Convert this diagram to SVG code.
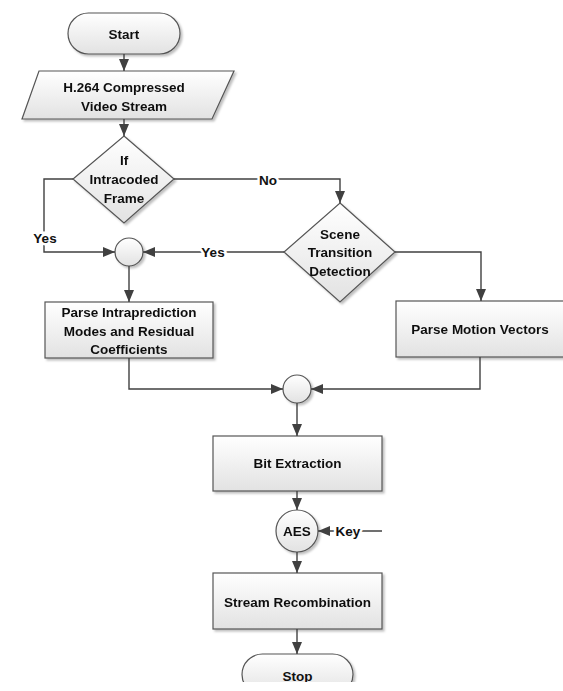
<svg xmlns="http://www.w3.org/2000/svg" width="563" height="691" viewBox="0 0 563 691">
<style>
.shape{fill:url(#g);stroke:#555;stroke-width:1.2}
.t{font-family:"Liberation Sans",Arial,sans-serif;font-weight:bold;font-size:13.5px;fill:#111;text-anchor:middle;dominant-baseline:central}
.lbl{paint-order:stroke;stroke:#fff;stroke-width:5px}
.c{fill:none;stroke:#404040;stroke-width:1.4}
</style>
<defs>
<linearGradient id="g" x1="0" y1="0" x2="0" y2="1">
<stop offset="0" stop-color="#ffffff"/>
<stop offset="1" stop-color="#e2e2e2"/>
</linearGradient>
<filter id="sh" x="-10%" y="-10%" width="130%" height="130%">
<feDropShadow dx="2" dy="2" stdDeviation="1.2" flood-color="#000" flood-opacity="0.25"/>
</filter>
<marker id="ah" markerUnits="userSpaceOnUse" markerWidth="14" markerHeight="14" viewBox="0 0 14 14" refX="12" refY="7" orient="auto">
<path d="M0,2 L12,7 L0,12 Z" fill="#404040"/>
</marker>
<clipPath id="clipb"><rect x="0" y="0" width="563" height="682"/></clipPath>
</defs>
<rect width="563" height="691" fill="#fff"/>

<g id="start" filter="url(#sh)">
<rect class="shape" x="68" y="13" width="112" height="41" rx="20.5"/>
<text class="t" x="124" y="34">Start</text>
</g>
<g id="input" filter="url(#sh)">
<polygon class="shape" points="39,71 234,71 212,119 22,119"/>
<text class="t" x="124" y="87">H.264 Compressed</text>
<text class="t" x="124" y="106">Video Stream</text>
</g>
<g id="dec1" filter="url(#sh)">
<polygon class="shape" points="124,136 174,179 124,223 73,179"/>
<text class="t" x="124" y="160">If</text>
<text class="t" x="124" y="179">Intracoded</text>
<text class="t" x="124" y="198">Frame</text>
</g>
<g id="dec2" filter="url(#sh)">
<polygon class="shape" points="340,203 395,252 340,302 284,252"/>
<text class="t" x="340" y="234">Scene</text>
<text class="t" x="340" y="252">Transition</text>
<text class="t" x="340" y="271">Detection</text>
</g>
<g id="join1" filter="url(#sh)">
<circle class="shape" cx="129" cy="252" r="14"/>
</g>
<g id="intra" filter="url(#sh)">
<rect class="shape" x="45" y="302" width="168" height="56"/>
<text class="t" x="129" y="312">Parse Intraprediction</text>
<text class="t" x="129" y="331">Modes and Residual</text>
<text class="t" x="129" y="349">Coefficients</text>
</g>
<g id="motion" filter="url(#sh)">
<rect class="shape" x="396" y="301" width="172" height="56"/>
<text class="t" x="480" y="329">Parse Motion Vectors</text>
</g>
<g id="join2" filter="url(#sh)">
<circle class="shape" cx="297" cy="389" r="14"/>
</g>
<g id="bitext" filter="url(#sh)">
<rect class="shape" x="213" y="436" width="169" height="55"/>
<text class="t" x="297.5" y="463">Bit Extraction</text>
</g>
<g id="aes" filter="url(#sh)">
<circle class="shape" cx="297" cy="531" r="21"/>
<text class="t" x="297" y="531">AES</text>
</g>
<g id="recomb" filter="url(#sh)">
<rect class="shape" x="213" y="573" width="169" height="56"/>
<text class="t" x="297.5" y="602">Stream Recombination</text>
</g>
<g id="stop" clip-path="url(#clipb)">
<g filter="url(#sh)">
<rect class="shape" x="242" y="654" width="111" height="41" rx="20.5"/>
</g>
<text class="t" x="297.5" y="676">Stop</text>
</g>

<g id="connectors">
<path class="c" d="M124,54 V71" marker-end="url(#ah)"/>
<path class="c" d="M124,119 V136" marker-end="url(#ah)"/>
<path class="c" d="M73,179 H44 V252 H115" marker-end="url(#ah)"/>
<path class="c" d="M174,179 H340 V203" marker-end="url(#ah)"/>
<path class="c" d="M284,252 H143" marker-end="url(#ah)"/>
<path class="c" d="M395,252 H481 V301" marker-end="url(#ah)"/>
<path class="c" d="M129,266 V302" marker-end="url(#ah)"/>
<path class="c" d="M129,358 V389 H283" marker-end="url(#ah)"/>
<path class="c" d="M480,357 V389 H311" marker-end="url(#ah)"/>
<path class="c" d="M297,403 V436" marker-end="url(#ah)"/>
<path class="c" d="M297,491 V510" marker-end="url(#ah)"/>
<path class="c" d="M382,531 H318" marker-end="url(#ah)"/>
<path class="c" d="M297,552 V573" marker-end="url(#ah)"/>
<path class="c" d="M297,629 V654" marker-end="url(#ah)"/>
<text class="t lbl" x="45" y="238">Yes</text>
<text class="t lbl" x="268" y="180">No</text>
<text class="t lbl" x="213" y="252">Yes</text>
<text class="t lbl" x="348" y="531">Key</text>
</g>
</svg>
